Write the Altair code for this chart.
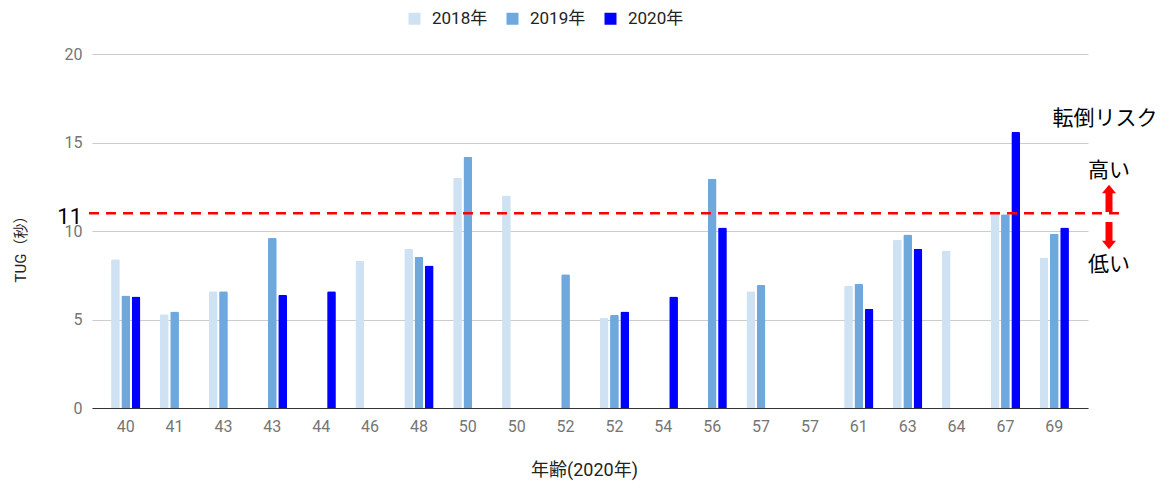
import altair as alt
import pandas as pd

# ---- data ----
ages = ["40", "41", "43", "43", "44", "46", "48", "50", "50", "52",
        "52", "54", "56", "57", "57", "61", "63", "64", "67", "69"]
years = ["2018年", "2019年", "2020年"]
v2018 = [8.4, 5.3, 6.6, None, None, 8.3, 9.0, 13.0, 12.0, None,
         5.1, None, None, 6.6, None, 6.9, 9.5, 8.9, 11.1, 8.5]
v2019 = [6.35, 5.45, 6.6, 9.6, None, None, 8.55, 14.2, None, 7.55,
         5.25, None, 12.95, 6.95, None, 7.0, 9.8, None, 10.95, 9.85]
v2020 = [6.3, None, None, 6.4, 6.6, None, 8.05, None, None, None,
         5.45, 6.3, 10.2, None, None, 5.6, 9.0, None, 15.6, 10.2]
threshold = 11
colors = ["#cfe2f3", "#6fa8dc", "#0000ff"]

rows = []
for i, age in enumerate(ages):
    for yr, vals in zip(years, [v2018, v2019, v2020]):
        if vals[i] is not None:
            rows.append({"idx": i, "age": age, "year": yr, "tug": vals[i]})
df = pd.DataFrame(rows)

label_expr = "[" + ",".join("'%s'" % a for a in ages) + "][datum.value]"

FONT = "Roboto, 'Noto Sans CJK JP'"
JP = "'Noto Sans CJK JP', Roboto"

yaxis = alt.Axis(values=[0, 5, 10, 15, 20], domain=False, ticks=False, grid=True,
                 gridColor="#cccccc", labelPadding=10, title="TUG（秒）",
                 titleFontSize=15, titleColor="#222222", titleFontWeight="normal",
                 titleFont=FONT, titleX=-64, titleY=191)
yscale = alt.Scale(domain=[0, 20], nice=False)

bars = alt.Chart(df).mark_bar(cornerRadiusTopLeft=1.5, cornerRadiusTopRight=1.5).encode(
    x=alt.X("idx:O",
            scale=alt.Scale(domain=list(range(len(ages))), paddingInner=0.4, paddingOuter=0.39),
            axis=alt.Axis(labelExpr=label_expr, labelAngle=0, title="年齢(2020年)",
                          domain=True, domainColor="#333333", domainWidth=1,
                          ticks=False, grid=False, labelPadding=10,
                          titleFontSize=18, titleColor="#222222", titleFontWeight="normal",
                          titleFont=FONT, titleX=492, titleY=62, titleBaseline="middle")),
    xOffset=alt.XOffset("year:N", sort=years, scale=alt.Scale(paddingInner=0.15, paddingOuter=0)),
    y=alt.Y("tug:Q", scale=yscale, axis=yaxis),
    color=alt.Color("year:N", sort=years,
                    scale=alt.Scale(domain=years, range=colors),
                    legend=alt.Legend(title=None, orient="none", legendX=314, legendY=-44,
                                      direction="horizontal", symbolType="square",
                                      symbolSize=144, symbolStrokeWidth=0,
                                      labelFontSize=17, labelColor="#222222",
                                      labelFont=FONT, columnPadding=16, labelOffset=9)),
)

one = pd.DataFrame({"tug": [threshold]})

line = alt.Chart(one).mark_rule(color="#ff0000", strokeWidth=2.5, strokeDash=[10, 7]).encode(
    y=alt.Y("tug:Q", scale=yscale, axis=yaxis), x=alt.value(-3), x2=alt.value(1031))

line_label = alt.Chart(one).mark_text(align="right", baseline="middle", fontSize=22,
                                      font=FONT, color="#000000", dy=4).encode(
    y=alt.Y("tug:Q", scale=yscale, axis=yaxis), x=alt.value(-10), text=alt.value("11"))

notes = pd.DataFrame({
    "txt": ["転倒リスク", "高い", "低い"],
    "px": [1013, 1017, 1017],
    "py": [65, 117, 211],
})
note_text = alt.Chart(notes).mark_text(fontSize=21, font=JP, color="#000000",
                                       baseline="middle", align="center").encode(
    x=alt.X("px:Q", scale=None), y=alt.Y("py:Q", scale=None), text="txt:N")

# arrows (annotation decoration)
shaft_up = alt.Chart(one).mark_rule(color="#ff0000", strokeWidth=7).encode(
    x=alt.value(1017), y=alt.value(138), y2=alt.value(158))
shaft_dn = alt.Chart(one).mark_rule(color="#ff0000", strokeWidth=7).encode(
    x=alt.value(1017), y=alt.value(168), y2=alt.value(188))
head_up = alt.Chart(one).mark_point(shape="M-1,0.6L1,0.6L0,-0.6Z", filled=True, opacity=1,
                                    color="#ff0000", size=196, strokeWidth=0).encode(
    x=alt.value(1017), y=alt.value(135))
head_dn = alt.Chart(one).mark_point(shape="M-1,-0.6L1,-0.6L0,0.6Z", filled=True, opacity=1,
                                    color="#ff0000", size=196, strokeWidth=0).encode(
    x=alt.value(1017), y=alt.value(191))

chart = alt.layer(bars, line, line_label, note_text, shaft_up, shaft_dn, head_up, head_dn).properties(
    width=996, height=354,
    autosize=alt.AutoSizeParams(type="none"),
    padding={"left": 84, "top": 46, "right": 72, "bottom": 76},
).configure(font=FONT).configure_view(stroke=None).configure_axis(
    labelFont=FONT, labelColor="#757575", labelFontSize=16,
)

chart.save("out.html", embed_options={"renderer": "svg", "actions": False})
